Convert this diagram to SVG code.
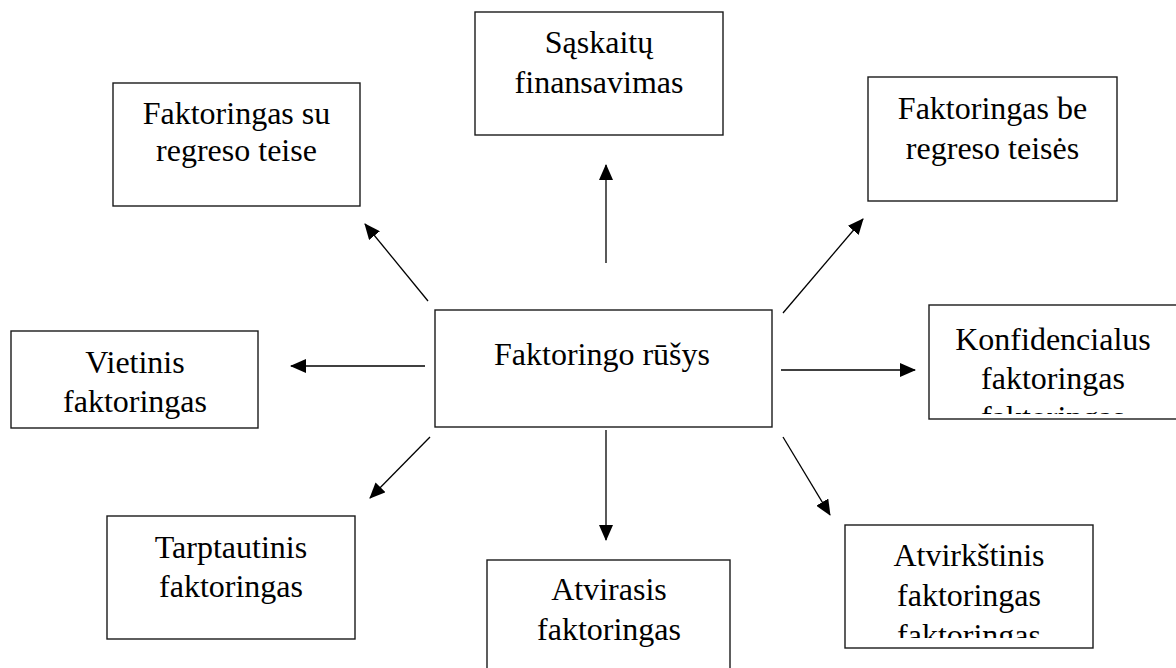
<svg xmlns="http://www.w3.org/2000/svg" width="1176" height="668" viewBox="0 0 1176 668">
  <style>
    .box { fill: #ffffff; stroke: #1a1a1a; stroke-width: 1.4; }
    .lbl { font-size: 32px; fill: #000000; text-anchor: middle; }
    .conn line { stroke: #000000; stroke-width: 1.3; fill: none; marker-end: url(#head); }
  </style>
  <defs>
    <marker id="head" viewBox="0 0 16 14" refX="15" refY="7" markerWidth="16" markerHeight="14" markerUnits="userSpaceOnUse" orient="auto">
      <path d="M0,0 L16,7 L0,14 Z" fill="#000000"/>
    </marker>
    <clipPath id="clipKonf"><rect x="929" y="305" width="260" height="109"/></clipPath>
    <clipPath id="clipAtvirk"><rect x="845" y="525" width="250" height="113"/></clipPath>
  </defs>
  <rect width="1176" height="668" fill="#ffffff"/>

  <g id="connectors" class="conn">
    <line x1="606" y1="263" x2="606" y2="165"/>
    <line x1="428" y1="301" x2="365" y2="224"/>
    <line x1="783" y1="313" x2="863" y2="219"/>
    <line x1="425" y1="366" x2="291" y2="366"/>
    <line x1="781" y1="370" x2="915" y2="370"/>
    <line x1="430" y1="437" x2="370" y2="498"/>
    <line x1="606" y1="430" x2="606" y2="540"/>
    <line x1="783" y1="437" x2="830" y2="515"/>
  </g>

  <g font-family="'Liberation Serif', 'Times New Roman', 'DejaVu Serif', serif">
    <g id="center">
      <rect class="box" x="435" y="310" width="337" height="117"/>
      <text class="lbl" x="602" y="365">Faktoringo rūšys</text>
    </g>

    <g id="saskaitu">
      <rect class="box" x="475" y="12" width="248" height="123"/>
      <text class="lbl" x="599" y="53">Sąskaitų</text>
      <text class="lbl" x="599" y="93">finansavimas</text>
    </g>

    <g id="su-regreso">
      <rect class="box" x="113" y="83" width="247" height="123"/>
      <text class="lbl" x="236.5" y="124">Faktoringas su</text>
      <text class="lbl" x="236.5" y="161">regreso teise</text>
    </g>

    <g id="be-regreso">
      <rect class="box" x="868" y="77" width="249" height="124"/>
      <text class="lbl" x="992.5" y="119">Faktoringas be</text>
      <text class="lbl" x="992.5" y="159">regreso teisės</text>
    </g>

    <g id="vietinis">
      <rect class="box" x="11" y="331" width="247" height="97"/>
      <text class="lbl" x="135" y="373">Vietinis</text>
      <text class="lbl" x="135" y="412">faktoringas</text>
    </g>

    <g id="konfidencialus">
      <rect class="box" x="929" y="305" width="260" height="114"/>
      <g clip-path="url(#clipKonf)">
        <text class="lbl" x="1053" y="350">Konfidencialus</text>
        <text class="lbl" x="1053" y="389">faktoringas</text>
        <text class="lbl" x="1053" y="428">faktoringas</text>
      </g>
    </g>

    <g id="tarptautinis">
      <rect class="box" x="107" y="516" width="248" height="123"/>
      <text class="lbl" x="231" y="558">Tarptautinis</text>
      <text class="lbl" x="231" y="597">faktoringas</text>
    </g>

    <g id="atvirasis">
      <rect class="box" x="487" y="560" width="243" height="130"/>
      <text class="lbl" x="609" y="600">Atvirasis</text>
      <text class="lbl" x="609" y="640">faktoringas</text>
    </g>

    <g id="atvirkstinis">
      <rect class="box" x="845" y="525" width="248" height="123"/>
      <g clip-path="url(#clipAtvirk)">
        <text class="lbl" x="969" y="566">Atvirkštinis</text>
        <text class="lbl" x="969" y="606">faktoringas</text>
        <text class="lbl" x="969" y="646">faktoringas</text>
      </g>
    </g>
  </g>
</svg>
